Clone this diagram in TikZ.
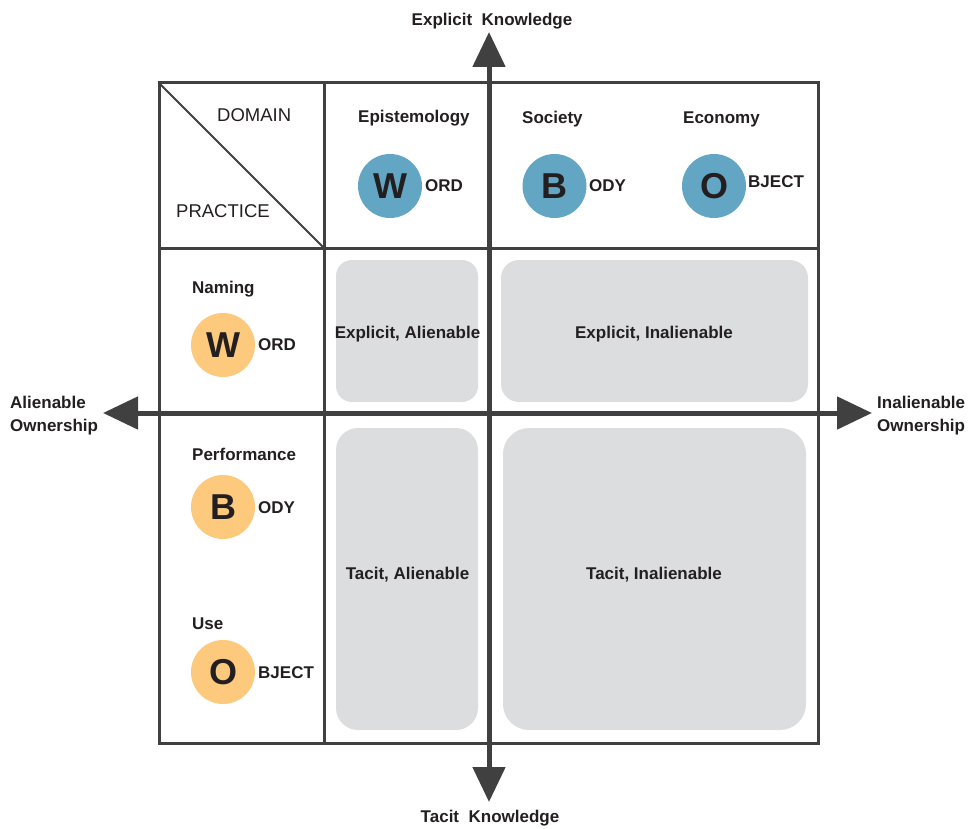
\documentclass[tikz,border=0pt]{standalone}
\usepackage{fontspec}
\setmainfont{Liberation Sans}
\usetikzlibrary{arrows.meta}
\definecolor{ink}{HTML}{231F20}
\definecolor{rule}{HTML}{404040}
\definecolor{boxgray}{HTML}{DCDDDF}
\definecolor{bluec}{HTML}{63A6C3}
\definecolor{orangec}{HTML}{FDC97D}
\tikzset{
  lbl/.style={font=\fontsize{17}{20}\selectfont\bfseries, text=ink, inner sep=0pt, anchor=base west},
  clbl/.style={lbl, anchor=base},
  twoline/.style={lbl, font=\fontsize{17}{23}\selectfont\bfseries, align=left, anchor=base west},
  rlbl/.style={font=\fontsize{18.5}{22}\selectfont, text=ink, inner sep=0pt, anchor=base west},
  gridline/.style={draw=rule, line width=3pt},
  diagline/.style={draw=rule, line width=2pt},
  gbox/.style={fill=boxgray},
  letter/.style={circle, minimum size=64pt, inner sep=0pt, font=\fontsize{36}{40}\selectfont\bfseries, text=ink},
  bluel/.style={letter, fill=bluec},
  orangel/.style={letter, fill=orangec},
  axis/.style={draw=rule, line width=5pt, -{Triangle[length=35pt,width=32pt]}, rule}
}
\begin{document}
\begin{tikzpicture}[x=1pt,y=-1pt]
\useasboundingbox (0,0) rectangle (969,829);

% gray quadrant boxes
\fill[gbox, rounded corners=16pt] (336,260) rectangle (478,402);
\fill[gbox, rounded corners=18pt] (501,260) rectangle (808,402);
\fill[gbox, rounded corners=22pt] (336,428) rectangle (478,730);
\fill[gbox, rounded corners=26pt] (503,428) rectangle (806,730);

% table
\draw[gridline] (159,83) rectangle (818,743);
\draw[gridline] (324,83) -- (324,743);
\draw[gridline] (159,248) -- (818,248);
\draw[diagline] (159,83) -- (324,248);

% header texts
\node[rlbl] (domain) at (217,122) {DOMAIN};
\node[rlbl] (practice) at (176,218) {PRACTICE};
\node[lbl] (epi) at (358,123) {Epistemology};
\node[lbl] (soc) at (522,124) {Society};
\node[lbl] (eco) at (683,124) {Economy};

% blue circles
\node[bluel] (w1) at (390,186) {W};
\node[lbl] (w1s) at (425,192) {ORD};
\node[bluel] (b1) at (554.5,186) {B};
\node[lbl] (b1s) at (589,192) {ODY};
\node[bluel] (o1) at (714,186) {O};
\node[lbl] (o1s) at (748,188) {BJECT};

% practice column
\node[lbl] (nam) at (192,293) {Naming};
\node[orangel] (w2) at (223,345) {W};
\node[lbl] (w2s) at (258,350) {ORD};
\node[lbl] (perf) at (192,460) {Performance};
\node[orangel] (b2) at (223,507) {B};
\node[lbl] (b2s) at (258,513) {ODY};
\node[lbl] (use) at (192,629) {Use};
\node[orangel] (o2) at (223,672) {O};
\node[lbl] (o2s) at (258,678) {BJECT};

% quadrant labels
\node[clbl] (ea) at (407.5,338) {Explicit, Alienable};
\node[clbl] (ei) at (654,338) {Explicit, Inalienable};
\node[clbl] (ta) at (407.5,579) {Tacit, Alienable};
\node[clbl] (ti) at (654,579) {Tacit, Inalienable};

% axes
\coordinate (ctr) at (489,413);
\coordinate (top) at (489,32);
\coordinate (bot) at (489,802);
\coordinate (lft) at (103,413);
\coordinate (rgt) at (872,413);
\draw[axis] (ctr) -- (top);
\draw[axis] (ctr) -- (bot);
\draw[axis] (ctr) -- (lft);
\draw[axis] (ctr) -- (rgt);

% axis labels
\node[clbl] (ek) at (492,26) {Explicit\ \ Knowledge};
\node[clbl] (tk) at (490,822) {Tacit\ \ Knowledge};
\node[twoline] (ao) at (10,431) {Alienable\\Ownership};
\node[twoline] (io) at (877,431) {Inalienable\\Ownership};
\end{tikzpicture}
\end{document}
